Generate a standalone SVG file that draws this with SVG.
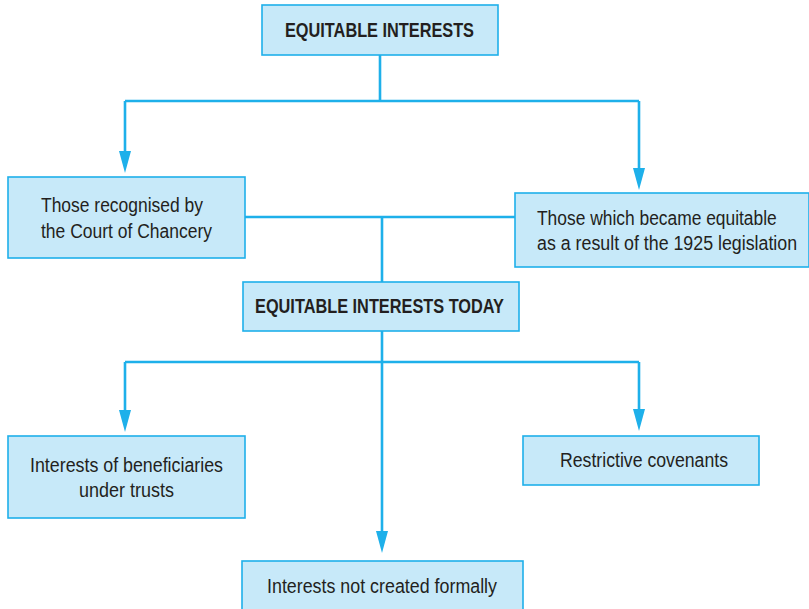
<svg xmlns="http://www.w3.org/2000/svg" width="809" height="609" viewBox="0 0 809 609">
  <defs>
    <style>
      .box { fill: #c7e9f9; stroke: #1eb0ea; stroke-width: 1.6; }
      .line { fill: none; stroke: #1eb0ea; stroke-width: 2.6; }
      .head { fill: #1eb0ea; }
      text { font-family: "Liberation Sans", Arial, sans-serif; fill: #231f20; font-size: 20px; }
      .bold { font-weight: bold; }
    </style>
  </defs>
  <rect width="809" height="609" fill="#ffffff"/>

  <g id="connectors">
    <!-- top trunk and branch -->
    <path class="line" d="M380 55 V101 M125 101 H639 M125 101 V155 M639 101 V172"/>
    <polygon class="head" points="119,151 131,151 125,173"/>
    <polygon class="head" points="633,168 645,168 639,190"/>
    <!-- merge into "today" -->
    <path class="line" d="M245 217 H515 M382 217 V282"/>
    <!-- lower trunk and branch -->
    <path class="line" d="M382 331 V535 M125 362 H639 M125 362 V413 M639 362 V412"/>
    <polygon class="head" points="119,410 131,410 125,432"/>
    <polygon class="head" points="633,409 645,409 639,431"/>
    <polygon class="head" points="376,531 388,531 382,553"/>
  </g>

  <g id="equitable-interests">
    <rect class="box" x="262" y="5" width="236" height="50"/>
    <text class="bold" x="285" y="37" textLength="189" lengthAdjust="spacingAndGlyphs">EQUITABLE INTERESTS</text>
  </g>

  <g id="court-of-chancery">
    <rect class="box" x="8" y="177" width="237" height="81"/>
    <text x="41" y="212" textLength="162" lengthAdjust="spacingAndGlyphs">Those recognised by</text>
    <text x="41" y="238" textLength="171" lengthAdjust="spacingAndGlyphs">the Court of Chancery</text>
  </g>

  <g id="legislation-1925">
    <rect class="box" x="515" y="193" width="294" height="74"/>
    <!-- condensed with a horizontal scale so the lines stay inside the page edge -->
    <text transform="translate(537,225) scale(0.87,1)">Those which became equitable</text>
    <text transform="translate(537,250) scale(0.89,1)">as a result of the 1925 legislation</text>
  </g>

  <g id="equitable-interests-today">
    <rect class="box" x="243" y="282" width="276" height="49"/>
    <text class="bold" x="255" y="313" textLength="249" lengthAdjust="spacingAndGlyphs">EQUITABLE INTERESTS TODAY</text>
  </g>

  <g id="beneficiaries">
    <rect class="box" x="8" y="436" width="237" height="82"/>
    <text x="30" y="472" textLength="193" lengthAdjust="spacingAndGlyphs">Interests of beneficiaries</text>
    <text x="79" y="497" textLength="95" lengthAdjust="spacingAndGlyphs">under trusts</text>
  </g>

  <g id="restrictive-covenants">
    <rect class="box" x="523" y="436" width="236" height="49"/>
    <text x="560" y="467" textLength="168" lengthAdjust="spacingAndGlyphs">Restrictive covenants</text>
  </g>

  <g id="not-created-formally">
    <rect class="box" x="242" y="561" width="281" height="60"/>
    <text x="267" y="593" textLength="230" lengthAdjust="spacingAndGlyphs">Interests not created formally</text>
  </g>
</svg>
